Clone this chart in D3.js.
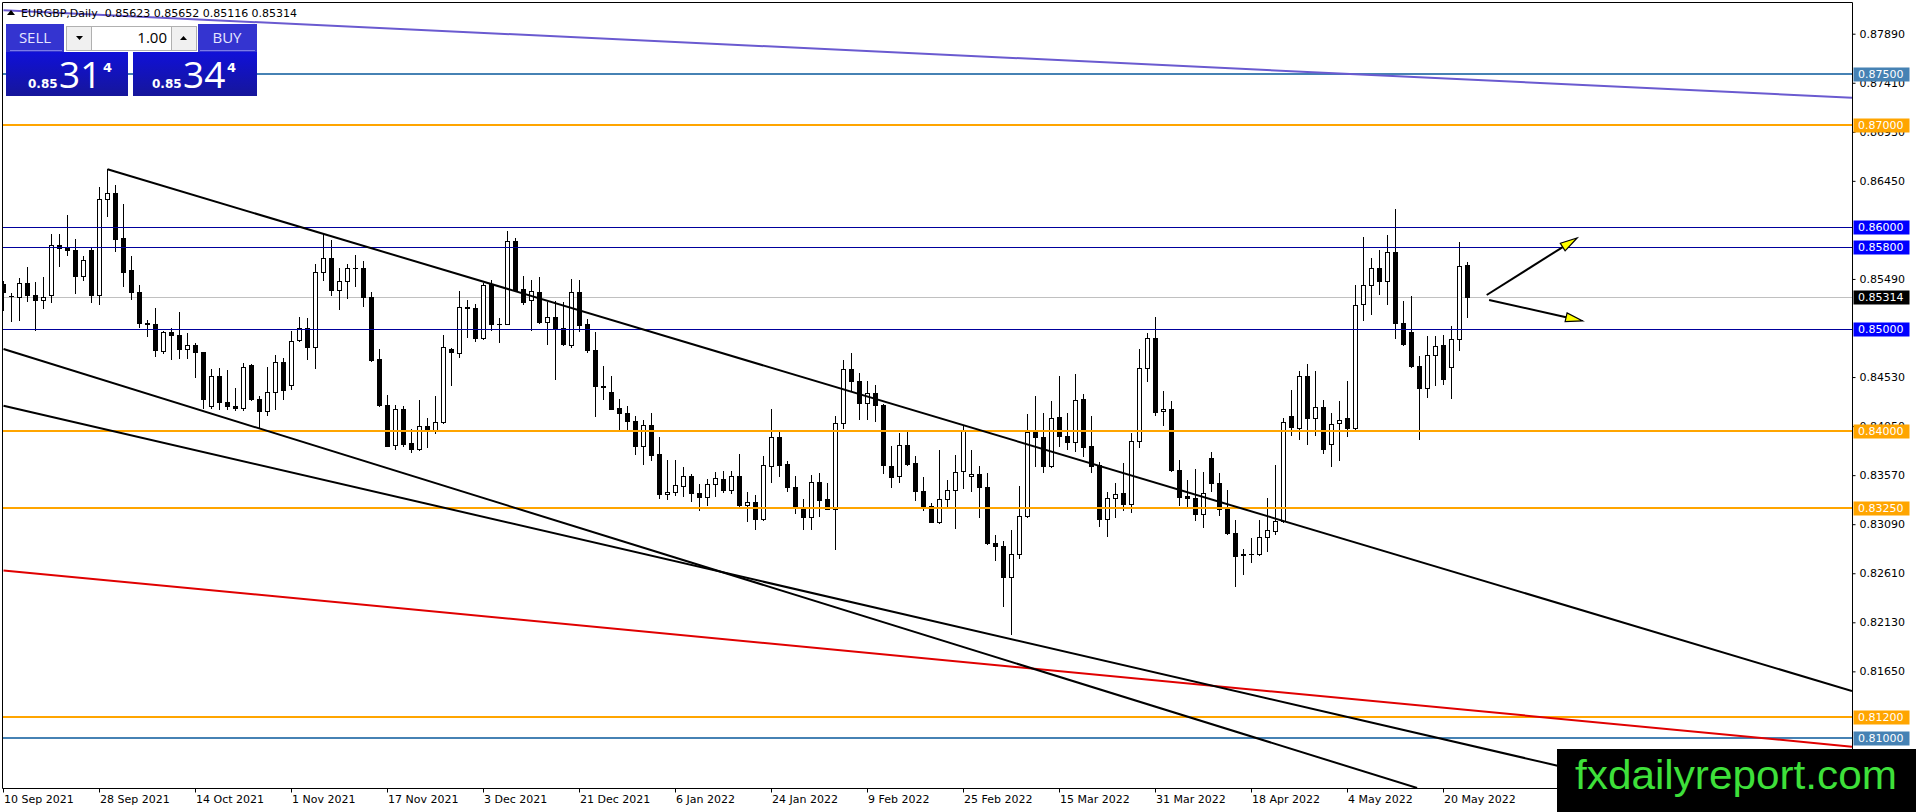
<!DOCTYPE html>
<html><head><meta charset="utf-8">
<script src="https://cdn.jsdelivr.net/npm/d3@7/dist/d3.min.js"></script>
<style>html,body{margin:0;padding:0;background:#fff;overflow:hidden}</style>
</head><body>
<svg id="c" width="1916" height="812"></svg>
<script>
// ---------------- DATA ----------------
const symbolName = "EURGBP,Daily";
const openP = [.85444,.85320,.85313,.85451,.85333,.85287,.85333,.85819,.85800,.85777,.85516,.85770,.85333,.86273,.86331,.85891,.85581,.85363,.85062,.85049,
.84782,.84970,.84945,.84805,.84843,.84775,.84244,.84544,.84286,.84250,.84224,.84651,.84315,.84195,.84384,.84677,.84449,.84893,.85010,.84821,
.85558,.85696,.85386,.85471,.85601,.85601,.85313,.84707,.84260,.83862,.84218,.83885,.83827,.84052,.84015,.84090,.84805,.84765,.85215,.85206,
.84912,.85444,.85052,.85049,.85859,.85392,.85280,.85363,.85068,.85117,.85010,.84840,.85363,.85049,.84795,.84443,.84384,.84228,.84179,.84103,
.83853,.84061,.83777,.83382,.83405,.83467,.83558,.83395,.83352,.83483,.83532,.83428,.83565,.83281,.83307,.83141,.83663,.83943,.83679,.83457,
.83258,.83157,.83506,.83339,.83239,.84081,.84609,.84495,.84276,.84374,.84260,.83656,.83558,.83865,.83689,.83418,.83265,.83111,.83336,.83421,
.83607,.83558,.83584,.83453,.82906,.82880,.82573,.82798,.83167,.83992,.83943,.83656,.84139,.83957,.83895,.84318,.83859,.83673,.83141,.83346,
.83395,.83290,.83902,.84619,.84912,.84195,.84218,.83616,.83369,.83346,.83190,.83739,.83493,.83242,.83004,.82795,.82795,.82798,.82965,.83026,
.83118,.84146,.84028,.84537,.84130,.84237,.83878,.84081,.84130,.84028,.85247,.85428,.85598,.85474,.85754,.85059,.84970,.84635,.84423,.84742,
.84840,.84628,.84902,.85623];
const highP = [.85468,.85353,.85500,.85607,.85458,.85509,.85933,.85927,.86120,.85884,.85712,.85794,.86390,.86566,.86413,.86227,.85712,.85431,.85091,.85206,
.84983,.85010,.85166,.84961,.84863,.84780,.84612,.84615,.84595,.84419,.84671,.84660,.84348,.84628,.84749,.84720,.84983,.85117,.85108,.85636,
.85930,.85875,.85598,.85636,.85721,.85663,.85360,.84808,.84358,.84260,.84250,.84022,.84309,.84130,.84348,.84945,.84812,.85370,.85287,.85247,
.85451,.85484,.85108,.85962,.85891,.85523,.85484,.85509,.85261,.85271,.85264,.85493,.85484,.85101,.84973,.84635,.84544,.84318,.84244,.84153,
.84113,.84179,.83940,.83722,.83722,.83646,.83581,.83486,.83535,.83597,.83607,.83607,.83780,.83405,.83372,.83761,.84218,.83992,.83712,.83565,
.83339,.83575,.83591,.83493,.84146,.84693,.84765,.84570,.84495,.84456,.84265,.83853,.83983,.83999,.83761,.83548,.83300,.83820,.83526,.83771,
.84065,.83820,.83663,.83591,.82988,.82923,.83036,.83460,.84169,.84348,.84179,.84293,.84544,.84179,.84563,.84367,.84153,.83696,.83405,.83493,
.83689,.83983,.84808,.84961,.85114,.84397,.84299,.83722,.83526,.83630,.83597,.83794,.83591,.83428,.83134,.82848,.82955,.83127,.83346,.83666,
.84130,.84407,.84592,.84657,.84592,.84309,.84179,.84299,.84495,.85435,.85900,.85696,.85777,.85924,.86175,.85271,.85320,.84733,.84935,.84935,
.84945,.85026,.85852,.85652];
const lowP = [.85189,.85081,.85084,.85271,.84993,.85206,.85261,.85614,.85721,.85353,.85477,.85261,.85241,.86110,.85761,.85425,.85294,.85019,.84928,.84733,
.84765,.84707,.84717,.84717,.84527,.84228,.84228,.84218,.84218,.84211,.84204,.84302,.84038,.84156,.84218,.84315,.84413,.84885,.84710,.84615,
.85477,.85337,.85196,.85304,.85418,.85228,.84690,.84244,.83853,.83827,.83853,.83797,.83820,.83843,.83983,.84085,.84449,.84726,.84922,.84880,
.84905,.84986,.84870,.85045,.85375,.85244,.84986,.85059,.84856,.84514,.84843,.84824,.84977,.84775,.84146,.84318,.84215,.84015,.84015,.83780,
.83679,.83715,.83346,.83336,.83372,.83369,.83314,.83225,.83281,.83362,.83405,.83395,.83265,.83118,.83043,.83135,.83500,.83558,.83412,.83200,
.83043,.83043,.83167,.83235,.82848,.84028,.84407,.84120,.84120,.84103,.83591,.83453,.83503,.83673,.83330,.83232,.83108,.83102,.83265,.83053,
.83444,.83412,.83157,.82900,.82736,.82293,.82018,.82760,.83160,.83656,.83597,.83650,.83853,.83827,.83804,.83761,.83597,.83069,.82978,.83157,
.83225,.83206,.83843,.84489,.84156,.84065,.83607,.83274,.83271,.83127,.83059,.83412,.83184,.82994,.82482,.82603,.82717,.82790,.82825,.82997,
.83110,.83960,.83924,.83878,.83967,.83787,.83656,.83715,.83950,.84020,.85084,.85147,.85343,.85244,.84912,.84840,.84625,.83924,.84334,.84456,
.84462,.84321,.84791,.85116];
const closeP = [.85363,.85327,.85451,.85330,.85284,.85317,.85822,.85794,.85774,.85516,.85679,.85330,.86273,.86331,.85881,.85555,.85363,.85056,.85049,.84791,
.84970,.84938,.84805,.84843,.84775,.84315,.84544,.84283,.84244,.84228,.84628,.84312,.84195,.84384,.84677,.84404,.84883,.85010,.84821,.85555,
.85696,.85386,.85471,.85601,.85598,.85313,.84700,.84253,.83859,.84218,.83875,.83827,.84048,.84019,.84090,.84824,.84775,.85215,.85206,.84912,
.85431,.85049,.85049,.85859,.85379,.85261,.85376,.85065,.85117,.85003,.84853,.85363,.85036,.84791,.84439,.84432,.84221,.84179,.84097,.83853,
.84061,.83771,.83382,.83405,.83470,.83565,.83395,.83352,.83483,.83542,.83428,.83565,.83274,.83307,.83141,.83669,.83943,.83673,.83450,.83258,
.83157,.83506,.83323,.83239,.84081,.84609,.84489,.84276,.84374,.84253,.83666,.83551,.83865,.83679,.83412,.83271,.83114,.83336,.83421,.83600,
.83999,.83584,.83453,.82906,.82874,.82573,.82798,.83174,.83992,.83943,.83656,.84130,.83950,.83895,.84309,.83846,.83663,.83141,.83346,.83385,
.83290,.83902,.84619,.84912,.84188,.84218,.83616,.83355,.83346,.83190,.83395,.83493,.83242,.83004,.82776,.82788,.82800,.82965,.83029,.83118,
.84087,.84038,.84537,.84130,.84237,.83827,.84074,.84113,.84032,.85238,.85428,.85598,.85474,.85754,.85059,.84856,.84635,.84423,.84742,.84831,
.84511,.84902,.85614,.85314];
const askPrice = 0.85344;
const dateTickIdx = [0,12,24,36,48,60,72,84,96,108,120,132,144,156,168,180];
const dateLabels = ["10 Sep 2021","28 Sep 2021","14 Oct 2021","1 Nov 2021","17 Nov 2021","3 Dec 2021","21 Dec 2021","6 Jan 2022",
  "24 Jan 2022","9 Feb 2022","25 Feb 2022","15 Mar 2022","31 Mar 2022","18 Apr 2022","4 May 2022","20 May 2022"];
const priceTicks = [0.87890,0.87410,0.86930,0.86450,0.85490,0.84530,0.84050,0.83570,0.83090,0.82610,0.82130,0.81650];
const levelPrices = [0.875,0.870,0.860,0.858,0.850,0.840,0.8325,0.812,0.810];
const levelKinds  = ["steel","orange","blue","blue","blue","orange","orange","orange","steel"];
// trend lines: [startIndex, startPrice, endIndex, endPrice]
const channelTop   = [13, 0.86563, 231.06, 0.81458];
const channelLow1  = [0, 0.84804, 176.7, 0.80509];
const channelLow2  = [0, 0.84250, 194.25, 0.80727];
const redLine      = [0, 0.82637, 231.06, 0.80913];
const purpleLine   = [0, 0.88120, 231.06, 0.87264];
const arrowUp      = [185.4, 0.85333, 196.7, 0.85891];
const arrowDown    = [185.7, 0.85284, 197.4, 0.85079];

// ---------------- STYLE / LAYOUT ----------------
const W=1916,H=812, plotL=2, plotR=1852, plotT=2, plotB=788;
const kindColor = {steel:"#4682b4", orange:"#ffa500", blue:"#0000ff"};
const kindLine  = {steel:"#4682b4", orange:"#ffa500", blue:"#00009c"};
const kindWidth = {steel:2, orange:2, blue:1};
const FONT = "'DejaVu Sans', Tahoma, sans-serif";

const x = d3.scaleLinear().domain([0,183]).range([3.5, 3.5+8*183]);
const y = d3.scaleLinear().domain([0.8789,0.8213]).range([33.7,622.3]);

const svg = d3.select("#c");
svg.append("rect").attr("width",W).attr("height",H).attr("fill","#fff");
const defs = svg.append("defs");
defs.append("clipPath").attr("id","plot").append("rect")
  .attr("x",plotL+1).attr("y",plotT+1).attr("width",plotR-plotL-1).attr("height",plotB-plotT-1);

const g = svg.append("g").attr("clip-path","url(#plot)");

// current price line
const lastIdx = closeP.length-1;
const bid = closeP[lastIdx];
g.append("line").attr("x1",plotL).attr("x2",plotR)
  .attr("y1",Math.round(y(bid))+0.5).attr("y2",Math.round(y(bid))+0.5)
  .attr("stroke","#c0c0c0").attr("stroke-width",1);

// candles
const candles = d3.range(openP.length).map(i=>({i,o:openP[i],h:highP[i],l:lowP[i],c:closeP[i]}));
const cx = i => Math.floor(x(i));
g.append("g").selectAll("line").data(candles).join("line")
  .attr("x1",d=>cx(d.i)+0.5).attr("x2",d=>cx(d.i)+0.5)
  .attr("y1",d=>Math.round(y(d.h))).attr("y2",d=>Math.round(y(d.l))+1)
  .attr("stroke","#000").attr("stroke-width",1);
g.append("g").selectAll("rect").data(candles).join("rect")
  .attr("x",d=>cx(d.i)-2+0.5)
  .attr("y",d=>Math.round(y(Math.max(d.o,d.c)))+0.5)
  .attr("width",4)
  .attr("height",d=>Math.max(Math.round(y(Math.min(d.o,d.c)))-Math.round(y(Math.max(d.o,d.c))),0.01))
  .attr("fill",d=>d.c>=d.o?"#fff":"#000")
  .attr("stroke","#000").attr("stroke-width",1);

// horizontal levels
levelPrices.forEach((p,k)=>{
  const kind=levelKinds[k], w=kindWidth[kind];
  const yy = w===1 ? Math.round(y(p))+0.5 : Math.round(y(p));
  g.append("line").attr("x1",plotL).attr("x2",plotR).attr("y1",yy).attr("y2",yy)
    .attr("stroke",kindLine[kind]).attr("stroke-width",w);
});

// trend lines
function seg(a,color,w){
  g.append("line").attr("x1",x(a[0])).attr("y1",y(a[1])).attr("x2",x(a[2])).attr("y2",y(a[3]))
   .attr("stroke",color).attr("stroke-width",w);
}
seg(purpleLine,"#6a5ad0",2);
seg(redLine,"#e00000",2);
seg(channelTop,"#000",2);
seg(channelLow1,"#000",2);
seg(channelLow2,"#000",2);

// arrows
function arrow(a){
  const x1=x(a[0]),y1=y(a[1]),x2=x(a[2]),y2=y(a[3]);
  const ang=Math.atan2(y2-y1,x2-x1), L=17, hw=4.5;
  const bx=x2-L*Math.cos(ang), by=y2-L*Math.sin(ang);
  g.append("line").attr("x1",x1).attr("y1",y1).attr("x2",bx).attr("y2",by).attr("stroke","#000").attr("stroke-width",2);
  const px=-Math.sin(ang), py=Math.cos(ang);
  g.append("path").attr("d",`M${x2},${y2}L${bx+px*hw},${by+py*hw}L${bx-px*hw},${by-py*hw}Z`)
    .attr("fill","#ffff00").attr("stroke","#000").attr("stroke-width",1.2);
}
arrow(arrowUp); arrow(arrowDown);

// frame
svg.append("path").attr("d",`M${plotL+0.5},${plotB+0.5}V${plotT+0.5}H${plotR+0.5}V${plotB+0.5}H${plotL+0.5}`)
  .attr("fill","none").attr("stroke","#000").attr("stroke-width",1);

// right axis
const ya = svg.append("g").attr("transform",`translate(${plotR+0.5},0)`)
  .call(d3.axisRight(y).tickValues(priceTicks).tickSize(3).tickPadding(4).tickFormat(d3.format(".5f")));
ya.select(".domain").remove();
ya.selectAll("text").attr("font-family",FONT).attr("font-size",11).attr("fill","#000");
ya.selectAll("line").attr("stroke","#000");

// bottom axis
const xa = svg.append("g").attr("transform",`translate(0,${plotB+0.5})`)
  .call(d3.axisBottom(x).tickValues(dateTickIdx).tickSize(4).tickFormat((d,k)=>dateLabels[k]));
xa.select(".domain").remove();
xa.selectAll(".tick line").attr("stroke","#000").attr("transform","translate(-0.5,0)");
xa.selectAll("text").attr("font-family",FONT).attr("font-size",11).attr("fill","#000")
  .attr("text-anchor","start").attr("x",0).attr("y",7);

// right price labels
function priceLabel(p,bg){
  const yc=y(p);
  svg.append("rect").attr("x",1853.5).attr("y",Math.round(yc)-6.5).attr("width",56).attr("height",14).attr("fill",bg);
  svg.append("text").attr("x",1858).attr("y",Math.round(yc)+0.5).attr("dy","0.36em")
    .attr("font-family",FONT).attr("font-size",11).attr("fill","#fff").text(d3.format(".5f")(p));
}
levelPrices.forEach((p,k)=>priceLabel(p,kindColor[levelKinds[k]]));
priceLabel(bid,"#000");

// title
const f5=d3.format(".5f");
svg.append("path").attr("d","M7,15L11,10L15,15Z").attr("fill","#000");
svg.append("text").attr("x",21).attr("y",17).attr("font-family",FONT).attr("font-size",11).attr("fill","#000")
  .attr("xml:space","preserve").style("white-space","pre")
  .text(`${symbolName}  ${f5(openP[lastIdx])} ${f5(highP[lastIdx])} ${f5(lowP[lastIdx])} ${f5(closeP[lastIdx])}`);

// trading panel
const grad = defs.append("linearGradient").attr("id","pg").attr("x1",0).attr("x2",0).attr("y1",0).attr("y2",1);
grad.append("stop").attr("offset","0%").attr("stop-color","#1010d8");
grad.append("stop").attr("offset","100%").attr("stop-color","#16169a");
const panel = svg.append("g");
panel.append("rect").attr("x",6).attr("y",24).attr("width",58).attr("height",28).attr("fill","#3434d0");
panel.append("rect").attr("x",198).attr("y",24).attr("width",59).attr("height",28).attr("fill","#3434d0");
panel.append("rect").attr("x",6).attr("y",52).attr("width",122).attr("height",44).attr("fill","url(#pg)");
panel.append("rect").attr("x",133).attr("y",52).attr("width",124).attr("height",44).attr("fill","url(#pg)");
panel.append("line").attr("x1",10).attr("x2",62).attr("y1",50.5).attr("y2",50.5).attr("stroke","#7a7ae8");
panel.append("line").attr("x1",200).attr("x2",255).attr("y1",50.5).attr("y2",50.5).attr("stroke","#7a7ae8");
panel.append("text").attr("x",35).attr("y",43).attr("text-anchor","middle").attr("font-family","'Open Sans', sans-serif")
  .attr("font-size",15).attr("fill","#e6e6ff").text("SELL");
panel.append("text").attr("x",227).attr("y",43).attr("text-anchor","middle").attr("font-family","'Open Sans', sans-serif")
  .attr("font-size",15).attr("fill","#e6e6ff").text("BUY");
panel.append("rect").attr("x",66.5).attr("y",26.5).attr("width",25).attr("height",24).attr("fill","#f0f0f0").attr("stroke","#b0b0b0");
panel.append("rect").attr("x",91.5).attr("y",26.5).attr("width",80).attr("height",24).attr("fill","#fff").attr("stroke","#b0b0b0");
panel.append("rect").attr("x",171.5).attr("y",26.5).attr("width",25).attr("height",24).attr("fill","#f0f0f0").attr("stroke","#b0b0b0");
panel.append("path").attr("d","M76,36H83L79.5,40Z").attr("fill","#000");
panel.append("path").attr("d","M180,40H187L183.5,36Z").attr("fill","#000");
panel.append("text").attr("x",167).attr("y",43).attr("text-anchor","end").attr("font-family","'Open Sans', sans-serif")
  .attr("font-size",15).attr("fill","#000").text("1.00");
function bigPrice(p,x0){
  const s=f5(p);
  const head=s.slice(0,4), big=s.slice(4,6), sup=s.slice(6);
  panel.append("text").attr("x",x0).attr("y",88).attr("font-family",FONT).attr("font-weight","bold")
    .attr("font-size",12).attr("fill","#fff").text(head);
  panel.append("text").attr("x",x0+31).attr("y",88).attr("font-family","'Open Sans', sans-serif")
    .attr("font-size",37).attr("fill","#fff").text(big);
  panel.append("text").attr("x",x0+75).attr("y",72).attr("font-family",FONT).attr("font-weight","bold")
    .attr("font-size",13).attr("fill","#fff").text(sup);
}
bigPrice(bid,28);
bigPrice(askPrice,152);

// watermark
svg.append("rect").attr("x",1557).attr("y",749).attr("width",W-1557).attr("height",H-749).attr("fill","#000");
svg.append("text").attr("x",1575).attr("y",789).attr("font-family","'Liberation Sans Narrow','Liberation Sans',Arial,sans-serif")
  .attr("font-size",41).attr("fill","#3ee03a").attr("textLength",322).attr("lengthAdjust","spacingAndGlyphs")
  .text("fxdailyreport.com");
</script>
</body></html>
